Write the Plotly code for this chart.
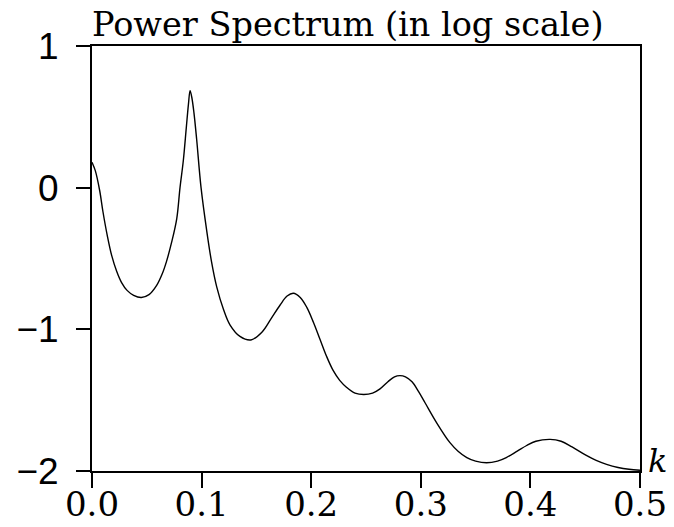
import plotly.graph_objects as go

k_vals = [0.000, 0.003, 0.007, 0.010, 0.014, 0.018, 0.0225, 0.027, 0.032, 0.038,
          0.045, 0.052, 0.059, 0.064, 0.068, 0.0725, 0.0773, 0.0803, 0.0833, 0.086,
          0.088, 0.0895, 0.091, 0.093, 0.0955, 0.0995, 0.1046, 0.109, 0.1138, 0.120,
          0.126, 0.135, 0.145, 0.155, 0.163, 0.1715, 0.178, 0.1837, 0.190, 0.196,
          0.202, 0.208, 0.214, 0.220, 0.226, 0.2324, 0.240, 0.248, 0.256, 0.2628,
          0.270, 0.276, 0.281, 0.286, 0.292, 0.298, 0.304, 0.3145, 0.3266, 0.334,
          0.342, 0.350, 0.360, 0.370, 0.378, 0.388, 0.3966, 0.405, 0.418, 0.428,
          0.438, 0.451, 0.460, 0.4695, 0.480, 0.490, 0.500]
log_power = [0.18, 0.12, -0.02, -0.17, -0.34, -0.48, -0.59, -0.67, -0.725, -0.76,
             -0.775, -0.755, -0.69, -0.61, -0.52, -0.39, -0.22, 0.0, 0.19, 0.42,
             0.59, 0.685, 0.64, 0.53, 0.34, 0.0, -0.30, -0.52, -0.70, -0.86,
             -0.97, -1.05, -1.075, -1.02, -0.93, -0.83, -0.765, -0.745, -0.775, -0.845,
             -0.95, -1.07, -1.19, -1.29, -1.36, -1.41, -1.45, -1.46, -1.45, -1.42,
             -1.37, -1.335, -1.327, -1.335, -1.37, -1.44, -1.52, -1.66, -1.80, -1.86,
             -1.905, -1.93, -1.942, -1.93, -1.905, -1.86, -1.82, -1.79, -1.777, -1.79,
             -1.83, -1.89, -1.925, -1.953, -1.975, -1.988, -1.995]

x_ticks = [0.0, 0.1, 0.2, 0.3, 0.4, 0.5]
y_ticks = [-2, -1, 0, 1]
title_text = "Power Spectrum (in log scale)"
x_label = "k"

fig = go.Figure()
fig.add_trace(go.Scatter(x=k_vals, y=log_power, mode="lines",
                         line=dict(color="black", width=1.4, shape="spline", smoothing=1.0),
                         showlegend=False, hoverinfo="skip"))

fig.update_layout(
    template="none",
    width=674, height=527,
    margin=dict(l=92, r=34, t=46, b=56),
    plot_bgcolor="white", paper_bgcolor="white",
    showlegend=False,
)
fig.update_xaxes(range=[0, 0.5], tickvals=x_ticks, tickformat=".1f", automargin=False,
                 showgrid=False, zeroline=False, showline=True, linecolor="black",
                 linewidth=2, mirror=True, ticks="outside", ticklen=15, tickwidth=2,
                 tickcolor="black", ticklabelstandoff=-13,
                 tickfont=dict(family="DejaVu Serif", size=34, color="black"))
fig.update_yaxes(range=[-2, 1], tickvals=y_ticks, automargin=False,
                 showgrid=False, zeroline=False, showline=True, linecolor="black",
                 linewidth=2, mirror=True, ticks="outside", ticklen=14, tickwidth=2,
                 tickcolor="black", ticklabelstandoff=10,
                 tickfont=dict(family="Liberation Sans", size=37, color="black"))

fig.add_annotation(text=title_text, xref="paper", yref="paper", x=0, y=1,
                   xanchor="left", yanchor="bottom", xshift=-2, yshift=0, showarrow=False,
                   font=dict(family="DejaVu Serif", size=33.5, color="black"))
fig.add_annotation(text="<i>" + x_label + "</i>", xref="paper", yref="paper", x=1, y=0,
                   xanchor="left", yanchor="bottom", xshift=6, yshift=-11, showarrow=False,
                   font=dict(family="DejaVu Serif", size=32, color="black"))

fig.write_html("out.html")
